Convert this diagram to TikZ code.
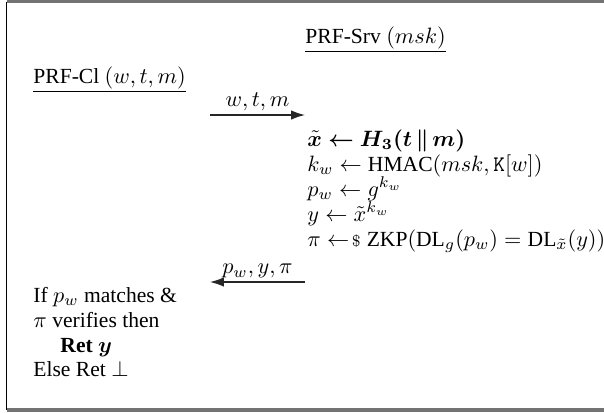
\documentclass[tikz,border=0pt]{standalone}
\usepackage{amsmath}
\usepackage{bm}
\usepackage{fontspec}
\setmainfont[Scale=0.97]{Liberation Serif}
\usetikzlibrary{arrows.meta}
\tikzset{
  txt/.style   = {anchor=base west, inner sep=0pt, font=\normalsize},
  msg/.style   = {-{Latex[length=2.2mm, width=1.5mm]}, draw=black!85, line width=0.6pt},
  msglab/.style= {midway, above=1.5pt, inner sep=0pt, text=black},
  frame/.style = {draw=black!55, line width=1.6pt},
}
\newcommand{\sampl}{\mathrel{\leftarrow\!{\scriptstyle\$}}}

\begin{document}
\begin{tikzpicture}[x=0.45pt, y=-0.45pt]
  \clip (0,0) rectangle (604,412);
  % frame
  \draw[frame] (6.5,1.5) -- (610,1.5);
  \draw[frame] (6.5,410) -- (610,410);
  \draw[black, line width=0.6pt] (6.5,1.5) -- (6.5,410);

  % parties
  \node[txt] (srv) at (305,43) {\underline{PRF-Srv $(msk)$}};
  \node[txt] (cl)  at (33,83)  {\underline{PRF-Cl $(w,t,m)$}};

  % first message
  \coordinate (m1a) at (210,115);
  \coordinate (m1b) at (305,115);
  \draw[msg] (m1a) -- node[msglab] {$w,t,m$} (m1b);

  % server side
  \node[txt] (s1) at (307,146) {$\bm{\tilde{x} \gets H_3(t \,\|\, m)}$};
  \node[txt] (s2) at (307,171) {$k_w \gets \mathrm{HMAC}(msk, \mathtt{K}[w])$};
  \node[txt] (s3) at (307,196) {$p_w \gets g^{k_w}$};
  \node[txt] (s4) at (307,221) {$y \gets \tilde{x}^{k_w}$};
  \node[txt] (s5) at (307,246) {$\pi \sampl \mathrm{ZKP}(\mathrm{DL}_g(p_w) = \mathrm{DL}_{\tilde{x}}(y))$};

  % second message
  \coordinate (m2a) at (305,282);
  \coordinate (m2b) at (210,282);
  \draw[msg] (m2a) -- node[msglab] {$p_w,y,\pi$} (m2b);

  % client side
  \node[txt] (c1) at (33,302) {If $p_w$ matches \&};
  \node[txt] (c2) at (33,327) {$\pi$ verifies then};
  \node[txt] (c3) at (60,352) {\textbf{Ret} $\bm{y}$};
  \node[txt] (c4) at (33,376) {Else Ret $\perp$};
\end{tikzpicture}
\end{document}
